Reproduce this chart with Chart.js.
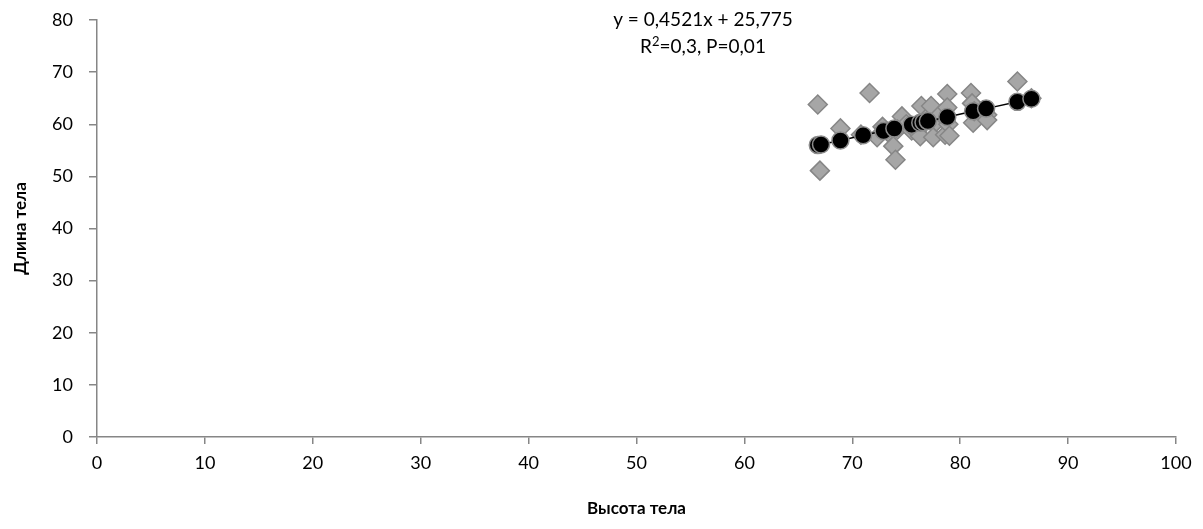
<!DOCTYPE html>
<html>
<head>
<meta charset="utf-8">
<script src="https://cdn.jsdelivr.net/npm/chart.js@4"></script>
<style>
  html, body { margin: 0; padding: 0; background: #fff; }
  #wrap { width: 1203px; height: 529px; }
</style>
</head>
<body>
<div id="wrap"><canvas id="chart" width="1203" height="529"></canvas></div>
<script>
// observed values (grey diamonds)
const heightObs = [66.8, 67.0, 68.9, 71.6, 70.8, 72.3, 72.8, 73.3, 73.8, 74.0, 74.6, 74.2, 75.0, 75.5, 76.0, 76.3, 76.4, 76.8, 77.3, 77.5, 77.8, 78.2, 78.6, 78.8, 78.8, 78.9, 79.0, 81.0, 81.1, 81.2, 81.3, 82.5, 82.5, 85.3, 86.6];
const lengthObs = [63.8, 51.1, 59.2, 66.0, 58.0, 57.5, 59.5, 58.5, 55.8, 53.2, 61.5, 59.0, 60.0, 58.8, 58.5, 57.7, 63.5, 61.0, 63.5, 57.5, 60.5, 62.0, 58.0, 65.8, 63.2, 60.0, 57.8, 66.0, 64.0, 60.3, 62.5, 61.8, 60.8, 68.2, 65.0];

// predicted values (black circles on the trend line)
const heightFit = [66.8, 67.1, 68.9, 71.0, 72.9, 73.9, 75.5, 76.3, 76.6, 77.0, 78.8, 81.2, 82.4, 85.3, 86.6];
const lengthFit = [56.0, 56.1, 56.9, 57.9, 58.7, 59.2, 59.9, 60.3, 60.4, 60.6, 61.4, 62.5, 63.0, 64.3, 64.9];

const xTicks = [0, 10, 20, 30, 40, 50, 60, 70, 80, 90, 100];
const yTicks = [0, 10, 20, 30, 40, 50, 60, 70, 80];

const eqLine = 'y = 0,4521x + 25,775';
const statsLine = ['R', '2', '=0,3, P=0,01'];

const FONT = 'Lato, "Open Sans", sans-serif';
const AXIS = '#868686';

const obsPoints = heightObs.map((x, i) => ({ x: x, y: lengthObs[i] }));
const fitPoints = heightFit.map((x, i) => ({ x: x, y: lengthFit[i] }));

const equationText = {
    id: 'equationText',
    afterDraw(chart) {
        const ctx = chart.ctx;
        ctx.save();
        ctx.fillStyle = '#000';
        ctx.font = '19px ' + FONT;
        ctx.textBaseline = 'middle';
        ctx.textAlign = 'center';
        const cx = 703;
        ctx.fillText(eqLine, cx, 20);

        // second line with superscript
        ctx.textAlign = 'left';
        const w1 = ctx.measureText(statsLine[0]).width;
        ctx.font = '13px ' + FONT;
        const w2 = ctx.measureText(statsLine[1]).width;
        ctx.font = '19px ' + FONT;
        const w3 = ctx.measureText(statsLine[2]).width;
        let x = cx - (w1 + w2 + w3) / 2;
        ctx.fillText(statsLine[0], x, 47);
        x += w1;
        ctx.font = '13px ' + FONT;
        ctx.fillText(statsLine[1], x, 42);
        x += w2;
        ctx.font = '19px ' + FONT;
        ctx.fillText(statsLine[2], x, 47);
        ctx.restore();
    }
};

new Chart(document.getElementById('chart').getContext('2d'), {
    type: 'scatter',
    data: {
        datasets: [
            {
                label: 'fit',
                data: fitPoints,
                showLine: true,
                borderColor: '#000',
                borderWidth: 1.5,
                pointStyle: 'circle',
                pointRadius: 8.5,
                pointBackgroundColor: '#000',
                pointBorderColor: '#8c8c8c',
                pointBorderWidth: 1.5,
                order: 1
            },
            {
                label: 'obs',
                data: obsPoints,
                pointStyle: 'rectRot',
                pointRadius: 9.5,
                pointBackgroundColor: '#a6a6a6',
                pointBorderColor: '#868686',
                pointBorderWidth: 1.5,
                order: 2
            }
        ]
    },
    options: {
        responsive: false,
        animation: false,
        layout: { padding: { top: 20, right: 27, left: 0, bottom: 0 } },
        plugins: {
            legend: { display: false },
            tooltip: { enabled: false }
        },
        scales: {
            x: {
                type: 'linear',
                min: 0,
                max: 100,
                afterBuildTicks: s => { s.ticks = xTicks.map(v => ({ value: v })); },
                afterFit: s => { s.height = 92; },
                border: { color: AXIS, width: 1.5 },
                grid: { drawOnChartArea: false, drawTicks: true, tickLength: 7, color: AXIS, lineWidth: 1.5 },
                ticks: { color: '#000', font: { family: FONT, size: 18 }, padding: 8 },
                title: {
                    display: true,
                    text: 'Высота тела',
                    color: '#000',
                    font: { family: FONT, size: 17, weight: 'bold' },
                    padding: { top: 12, bottom: 10 }
                }
            },
            y: {
                type: 'linear',
                min: 0,
                max: 80,
                afterBuildTicks: s => { s.ticks = yTicks.map(v => ({ value: v })); },
                afterFit: s => { s.width = 97; s.paddingTop = 0; s.paddingBottom = 0; },
                border: { color: AXIS, width: 1.5 },
                grid: { drawOnChartArea: false, drawTicks: true, tickLength: 8, color: AXIS, lineWidth: 1.5 },
                ticks: { color: '#000', font: { family: FONT, size: 18 }, padding: 16 },
                title: {
                    display: true,
                    text: 'Длина тела',
                    color: '#000',
                    font: { family: FONT, size: 17, weight: 'bold' },
                    padding: { top: 10, bottom: 0 }
                }
            }
        }
    },
    plugins: [equationText]
});
</script>
</body>
</html>
